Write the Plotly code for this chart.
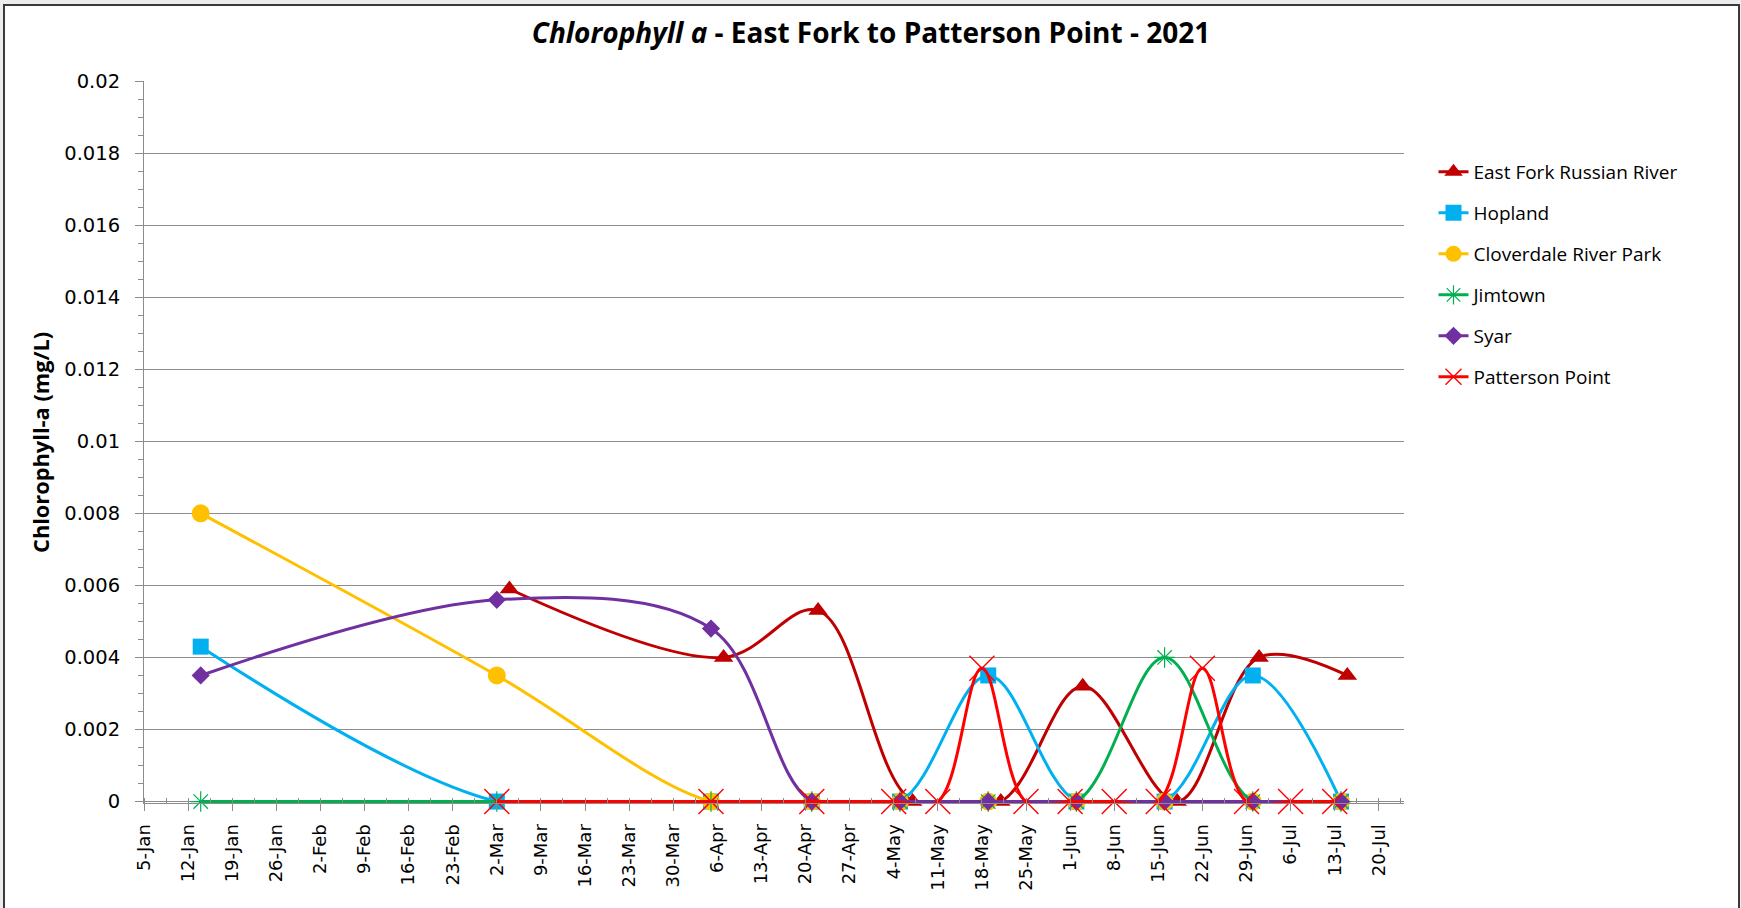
import plotly.graph_objects as go

# ---- data -------------------------------------------------------------
SITE_DATES = ["2021-01-14", "2021-03-02", "2021-04-05", "2021-04-21", "2021-05-05",
              "2021-05-19", "2021-06-02", "2021-06-16", "2021-06-30", "2021-07-14"]

EAST_FORK_DATES = ["2021-03-04", "2021-04-07", "2021-04-22", "2021-05-07", "2021-05-21",
                   "2021-06-03", "2021-06-18", "2021-07-01", "2021-07-15"]
EAST_FORK = [0.0059, 0.0040, 0.0053, 0.0, 0.0, 0.0032, 0.0, 0.0040, 0.0035]

HOPLAND = [0.0043, 0.0, 0.0, 0.0, 0.0, 0.0035, 0.0, 0.0, 0.0035, 0.0]
CLOVERDALE = [0.0080, 0.0035, 0.0, 0.0, 0.0, 0.0, 0.0, 0.0, 0.0, 0.0]
JIMTOWN = [0.0, 0.0, 0.0, 0.0, 0.0, 0.0, 0.0, 0.0040, 0.0, 0.0]
SYAR = [0.0035, 0.0056, 0.0048, 0.0, 0.0, 0.0, 0.0, 0.0, 0.0, 0.0]

PATTERSON_DATES = ["2021-03-02", "2021-04-05", "2021-04-21", "2021-05-04", "2021-05-11",
                   "2021-05-18", "2021-05-25", "2021-06-01", "2021-06-08", "2021-06-15",
                   "2021-06-22", "2021-06-29", "2021-07-06", "2021-07-13"]
PATTERSON = [0.0, 0.0, 0.0, 0.0, 0.0, 0.0037, 0.0, 0.0, 0.0, 0.0, 0.0037, 0.0, 0.0, 0.0]

Y_TICKS = [0, 0.002, 0.004, 0.006, 0.008, 0.01, 0.012, 0.014, 0.016, 0.018, 0.02]
Y_TICK_TEXT = ["0", "0.002", "0.004", "0.006", "0.008", "0.01", "0.012", "0.014",
               "0.016", "0.018", "0.02"]

# ---- styling ----------------------------------------------------------
W, H = 1741, 908
PLOT_L, PLOT_R, PLOT_T, PLOT_B = 144, 1404, 81, 803
DAY_MS = 86400000
GRID = "#8c8c8c"
TICK_FONT = "DejaVu Sans"
TEXT_FONT = "Open Sans"

series = [
    ("East Fork Russian River", EAST_FORK_DATES, EAST_FORK, "#C00000",
     dict(symbol="triangle-up", size=17)),
    ("Hopland", SITE_DATES, HOPLAND, "#00B0F0", dict(symbol="square", size=16)),
    ("Cloverdale River Park", SITE_DATES, CLOVERDALE, "#FFC000",
     dict(symbol="circle", size=18)),
    ("Jimtown", SITE_DATES, JIMTOWN, "#00B050",
     dict(symbol="asterisk-open", size=17, line=dict(width=1.2))),
    ("Syar", SITE_DATES, SYAR, "#7030A0", dict(symbol="diamond", size=14)),
    ("Patterson Point", PATTERSON_DATES, PATTERSON, "#FF0000",
     dict(symbol="x-thin-open", size=25, line=dict(width=1.4))),
]

fig = go.Figure()
for i, (name, xs, ys, color, mk) in enumerate(series):
    marker = dict(color=color, **mk)
    if "line" in marker:
        marker["line"] = dict(color=color, **marker["line"])
    else:
        marker["line"] = dict(width=0)
    fig.add_trace(go.Scatter(
        x=xs, y=ys, name=name, mode="lines+markers",
        line=dict(color=color, width=3, shape="spline", smoothing=1),
        marker=marker, legendgroup=f"g{i}", cliponaxis=False,
    ))

px_to_xpaper = lambda px: (px - PLOT_L) / (PLOT_R - PLOT_L)
px_to_ypaper = lambda py: (PLOT_B - py) / (PLOT_B - PLOT_T)

fig.update_layout(
    width=W, height=H,
    margin=dict(l=PLOT_L, r=W - PLOT_R, t=PLOT_T, b=H - PLOT_B, pad=0),
    paper_bgcolor="#ececec", plot_bgcolor="white",
    title=dict(
        text="<b><i>Chlorophyll a</i> - East Fork to Patterson Point - 2021</b>",
        x=871 / W, xanchor="center", y=1 - 33 / H, yanchor="middle",
        font=dict(family=TEXT_FONT, size=28, color="black"),
    ),
    showlegend=True,
    legend=dict(
        x=px_to_xpaper(1433.5), xanchor="left",
        y=px_to_ypaper(153), yanchor="top",
        font=dict(family=TEXT_FONT, size=19, color="black"),
        tracegroupgap=13.3, itemwidth=30, bgcolor="rgba(0,0,0,0)",
    ),
    xaxis=dict(
        type="date",
        range=["2021-01-05", "2021-07-24"],
        tick0="2021-01-05", dtick=7 * DAY_MS, tickformat="%-d-%b",
        tickangle=-90, ticks="outside", ticklen=7, tickcolor=GRID, tickwidth=1,
        tickfont=dict(family=TICK_FONT, size=18, color="black"),
        showline=True, linecolor=GRID, linewidth=1,
        showgrid=False, zeroline=False,
        minor=dict(dtick=3.5 * DAY_MS, tick0="2021-01-05", ticks="inside",
                   ticklen=5, tickcolor=GRID, showgrid=False),
        ticklabelstandoff=6,
    ),
    yaxis=dict(
        range=[-0.00004, 0.02],
        tickmode="array", tickvals=Y_TICKS, ticktext=Y_TICK_TEXT,
        ticks="outside", ticklen=8, tickcolor=GRID, tickwidth=1,
        tickfont=dict(family=TICK_FONT, size=19.5, color="black"),
        showline=True, linecolor=GRID, linewidth=1,
        showgrid=True, gridcolor=GRID, gridwidth=1,
        zeroline=True, zerolinecolor=GRID, zerolinewidth=1,
        minor=dict(dtick=0.0005, tick0=0, ticks="outside", ticklen=5,
                   tickcolor=GRID, showgrid=False),
        ticklabelstandoff=11,
    ),
    annotations=[dict(
        text="<b>Chlorophyll-a (mg/L)</b>", textangle=-90,
        xref="paper", yref="paper", x=px_to_xpaper(40), y=px_to_ypaper(443),
        xanchor="center", yanchor="middle", showarrow=False,
        font=dict(family=TEXT_FONT, size=21.8, color="black"),
    )],
    shapes=[dict(
        type="rect", xref="paper", yref="paper", layer="below",
        x0=px_to_xpaper(4), x1=px_to_xpaper(1739),
        y0=px_to_ypaper(912), y1=px_to_ypaper(5),
        fillcolor="white", line=dict(color="#3a3a3a", width=2),
    )],
)

fig.write_html("out.html")
